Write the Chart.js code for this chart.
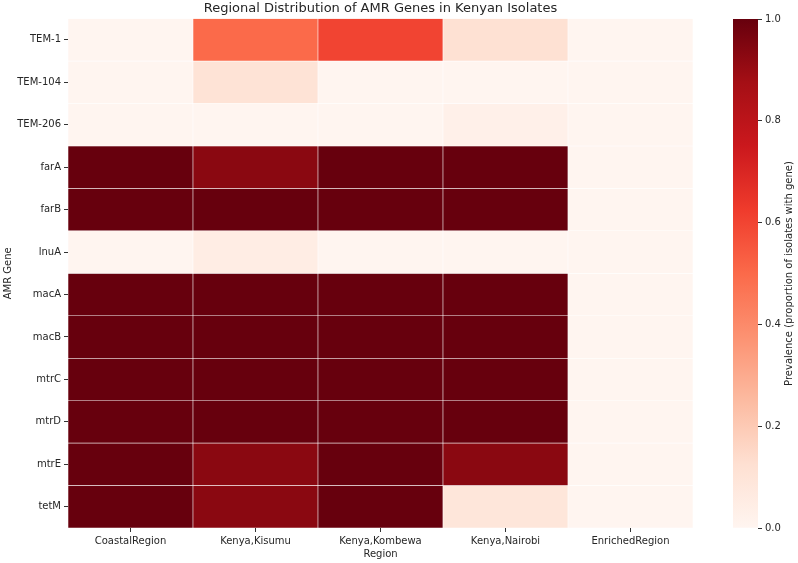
<!DOCTYPE html>
<html>
<head>
<meta charset="utf-8">
<script src="https://cdn.jsdelivr.net/npm/chart.js@4/dist/chart.umd.min.js"></script>
<style>
  html, body { margin: 0; padding: 0; background: #fff; }
  #wrap { position: relative; width: 798px; height: 563px; }
  #heat { position: absolute; left: 0; top: 0; }
  #cbar { position: absolute; left: 700px; top: 0; }
</style>
</head>
<body>
<div id="wrap">
  <canvas id="heat" width="761" height="563"></canvas>
  <canvas id="cbar" width="98" height="563"></canvas>
</div>
<script>
// rows / columns of the heatmap
const genes = ['TEM-1', 'TEM-104', 'TEM-206', 'farA', 'farB', 'lnuA', 'macA', 'macB', 'mtrC', 'mtrD', 'mtrE', 'tetM'];
const regions = ['CoastalRegion', 'Kenya,Kisumu', 'Kenya,Kombewa', 'Kenya,Nairobi', 'EnrichedRegion'];

// prevalence per region, one value per gene (same order as genes)
const coastal  = [0,    0,    0,    1,    1, 0,    1, 1, 1, 1, 1,    1];
const kisumu   = [0.5,  0.11, 0,    0.93, 1, 0.05, 1, 1, 1, 1, 0.93, 0.93];
const kombewa  = [0.6,  0,    0,    1,    1, 0,    1, 1, 1, 1, 1,    1];
const nairobi  = [0.12, 0,    0.03, 1,    1, 0,    1, 1, 1, 1, 0.93, 0.09];
const enriched = [0,    0,    0,    0,    0, 0,    0, 0, 0, 0, 0,    0];

const cbarTicks = [0, 0.2, 0.4, 0.6, 0.8, 1.0];

const columns = [coastal, kisumu, kombewa, nairobi, enriched];

// matplotlib "Reds"
const reds = ['#fff5f0', '#fee0d2', '#fcbba1', '#fc9272', '#fb6a4a', '#ef3b2c', '#cb181d', '#a50f15', '#67000d'];

function hexToRgb(h) {
    return [parseInt(h.slice(1, 3), 16), parseInt(h.slice(3, 5), 16), parseInt(h.slice(5, 7), 16)];
}

function redsColor(v) {
    const t = Math.max(0, Math.min(1, v)) * (reds.length - 1);
    const i = Math.min(Math.floor(t), reds.length - 2);
    const f = t - i;
    const a = hexToRgb(reds[i]);
    const b = hexToRgb(reds[i + 1]);
    const c = a.map((x, k) => Math.round(x + (b[k] - x) * f));
    return `rgb(${c[0]},${c[1]},${c[2]})`;
}

const textColor = '#262626';
const tickColor = '#333';
Chart.defaults.font.family = '"DejaVu Sans", sans-serif';
Chart.defaults.font.size = 10;
Chart.defaults.color = textColor;

// one floating bar dataset per gene row
const datasets = genes.map((g, gi) => ({
    label: g,
    data: regions.map(() => [gi, gi + 1]),
    backgroundColor: columns.map(col => redsColor(col[gi])),
    borderColor: 'rgba(255,255,255,0.9)',
    borderWidth: 0.6,
    borderSkipped: false,
    barPercentage: 1,
    categoryPercentage: 1
}));

new Chart(document.getElementById('heat'), {
    type: 'bar',
    data: { labels: regions, datasets: datasets },
    options: {
        responsive: false,
        animation: false,
        plugins: {
            legend: { display: false },
            tooltip: { enabled: false },
            title: {
                display: true,
                text: 'Regional Distribution of AMR Genes in Kenyan Isolates',
                color: textColor,
                font: { size: 13, weight: 'normal' },
                padding: { top: 1, bottom: 2 }
            }
        },
        scales: {
            x: {
                stacked: true,
                grid: { drawOnChartArea: false, offset: false, tickLength: 4, color: tickColor, tickColor: tickColor },
                border: { display: false },
                ticks: { padding: 3, maxRotation: 0, color: textColor },
                title: { display: true, text: 'Region', padding: { top: 0, bottom: 3 }, color: textColor },
                afterFit: s => { s.height = 35; }
            },
            y: {
                stacked: false,
                reverse: true,
                min: 0,
                max: genes.length,
                afterBuildTicks: s => { s.ticks = genes.map((g, i) => ({ value: i + 0.5 })); },
                grid: { drawOnChartArea: false, tickLength: 4, color: tickColor, tickColor: tickColor },
                border: { display: false },
                ticks: {
                    padding: 3,
                    color: textColor,
                    callback: v => genes[Math.floor(v)]
                },
                title: { display: true, text: 'AMR Gene', padding: { top: 2, bottom: 0 }, color: textColor },
                afterFit: s => { s.width = 68; }
            },
            // empty right axis so the title centres over the plot
            yRight: {
                position: 'right',
                min: 0,
                max: 1,
                grid: { display: false },
                border: { display: false },
                ticks: { display: false },
                afterFit: s => { s.width = 68; }
            }
        }
    }
});

// colorbar
const cbarTitle = {
    id: 'cbarTitle',
    afterDraw(chart) {
        const ctx = chart.ctx;
        const area = chart.chartArea;
        ctx.save();
        ctx.translate(89, (area.top + area.bottom) / 2);
        ctx.rotate(-Math.PI / 2);
        ctx.font = '10px "DejaVu Sans", sans-serif';
        ctx.fillStyle = textColor;
        ctx.textAlign = 'center';
        ctx.textBaseline = 'middle';
        ctx.fillText('Prevalence (proportion of isolates with gene)', 0, 0);
        ctx.restore();
    }
};

new Chart(document.getElementById('cbar'), {
    type: 'bar',
    data: {
        labels: [''],
        datasets: [{
            data: [[0, 1]],
            barPercentage: 1,
            categoryPercentage: 1,
            borderWidth: 0,
            backgroundColor: ctx => {
                const area = ctx.chart.chartArea;
                if (!area) return reds[0];
                const g = ctx.chart.ctx.createLinearGradient(0, area.bottom, 0, area.top);
                reds.forEach((c, i) => g.addColorStop(i / (reds.length - 1), c));
                return g;
            }
        }]
    },
    options: {
        responsive: false,
        animation: false,
        layout: { padding: { left: 33, top: 19, bottom: 35 } },
        plugins: { legend: { display: false }, tooltip: { enabled: false } },
        scales: {
            x: { display: false },
            y: {
                position: 'right',
                min: 0,
                max: 1,
                afterBuildTicks: s => { s.ticks = cbarTicks.map(v => ({ value: v })); },
                grid: { drawOnChartArea: false, tickLength: 4, color: tickColor, tickColor: tickColor },
                border: { display: false },
                ticks: { padding: 3, color: textColor, callback: v => v.toFixed(1) },
                afterFit: s => { s.width = 40; }
            }
        }
    },
    plugins: [cbarTitle]
});
</script>
</body>
</html>
